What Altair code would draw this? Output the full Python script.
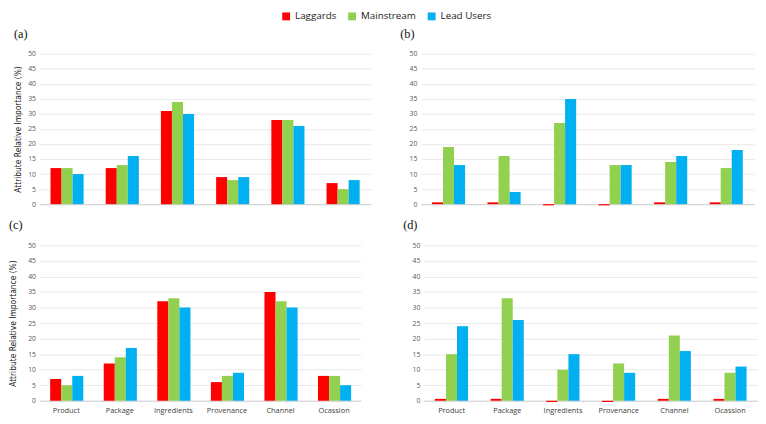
import altair as alt
import pandas as pd

categories = ["Product", "Package", "Ingredients", "Provenance", "Channel", "Ocassion"]
groups = ["Laggards", "Mainstream", "Lead Users"]
colors = ["#FF0000", "#92D050", "#00B0F0"]

a_lag = [12, 12, 31, 9, 28, 7]
a_main = [12, 13, 34, 8, 28, 5]
a_lead = [10, 16, 30, 9, 26, 8]

b_lag = [0.6, 0.6, -0.4, -0.4, 0.6, 0.6]
b_main = [19, 16, 27, 13, 14, 12]
b_lead = [13, 4, 35, 13, 16, 18]

c_lag = [7, 12, 32, 6, 35, 8]
c_main = [5, 14, 33, 8, 32, 8]
c_lead = [8, 17, 30, 9, 30, 5]

d_lag = [0.6, 0.6, -0.4, -0.4, 0.6, 0.6]
d_main = [15, 33, 10, 12, 21, 9]
d_lead = [24, 26, 15, 9, 16, 11]

y_ticks = [0, 5, 10, 15, 20, 25, 30, 35, 40, 45, 50]


def make_df(lag, main, lead):
    rows = []
    for i, c in enumerate(categories):
        for g, vals in zip(groups, [lag, main, lead]):
            rows.append({"Attribute": c, "Group": g, "Value": vals[i]})
    return pd.DataFrame(rows)


def panel(lag, main, lead, label, show_x, show_ytitle, w, h, tpad, tdx):
    df = make_df(lag, main, lead)
    yaxis = alt.Axis(
        values=y_ticks,
        domain=False,
        ticks=False,
        gridColor="#e3e3e3",
        gridWidth=0.8,
        labelColor="#595959",
        labelFontSize=7,
        labelFont="Open Sans",
        labelPadding=4,
        title="Attribute Relative Importance (%)" if show_ytitle else None,
        titleFont="Liberation Sans Narrow, DejaVu Sans Condensed, sans-serif",
        titleFontSize=8.5,
        titleFontWeight="normal",
        titleColor="#111111",
        titlePadding=tpad,
    )
    xaxis = alt.Axis(
        title=None,
        labels=show_x,
        ticks=False,
        labelAngle=0,
        domainColor="#d0d0d0",
        labelColor="#404040",
        labelFontSize=7.5,
        labelFont="Open Sans",
        labelPadding=6,
    )
    return (
        alt.Chart(df)
        .mark_bar()
        .encode(
            x=alt.X("Attribute:N", sort=categories,
                    scale=alt.Scale(paddingInner=0.4, paddingOuter=0.2), axis=xaxis),
            xOffset=alt.XOffset("Group:N", sort=groups,
                                scale=alt.Scale(paddingInner=0, paddingOuter=0)),
            y=alt.Y("Value:Q", scale=alt.Scale(domain=[0, 50]), axis=yaxis),
            color=alt.Color(
                "Group:N",
                scale=alt.Scale(domain=groups, range=colors),
                legend=alt.Legend(
                    title=None,
                    orient="none",
                    direction="horizontal",
                    legendX=246,
                    legendY=-43,
                    symbolType="square",
                    symbolSize=64,
                    symbolStrokeWidth=0,
                    labelFontSize=10,
                    labelFont="Open Sans",
                    labelColor="#222222",
                    columnPadding=10,
                ),
            ),
        )
        .properties(
            width=w,
            height=h,
            title=alt.TitleParams(label, anchor="start", font="Liberation Serif",
                                  fontSize=12.5, fontWeight="normal", color="#111111",
                                  offset=10, dx=tdx),
        )
    )


pa = panel(a_lag, a_main, a_lead, "(a)", False, True, 337, 153, 5, 0)
pb = panel(b_lag, b_main, b_lead, "(b)", False, False, 339, 153, 5, -9)
pc = panel(c_lag, c_main, c_lead, "(c)", True, True, 327, 158, 10, 0)
pd_ = panel(d_lag, d_main, d_lead, "(d)", True, False, 340, 158, 5, -9)

row1 = alt.hconcat(pa, pb, spacing=29)
row2 = alt.hconcat(pc, pd_, spacing=42)

chart = (
    alt.vconcat(row1, row2, spacing=12)
    .properties(padding={"left": 0, "top": 0, "right": 0, "bottom": 0})
    .configure_view(stroke=None)
)

chart.save("out.html", embed_options={"renderer": "svg", "actions": False})
